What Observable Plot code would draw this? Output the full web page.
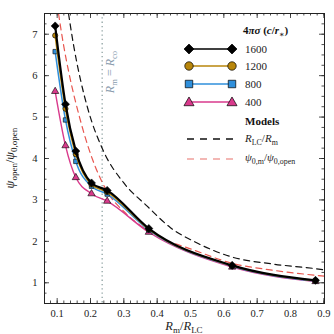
<!DOCTYPE html>
<html><head><meta charset="utf-8">
<script src="https://cdn.jsdelivr.net/npm/d3@7"></script>
<script src="https://cdn.jsdelivr.net/npm/@observablehq/plot@0.6"></script>
<style>
body{margin:0;background:#fff}
svg{font-family:"Liberation Serif","DejaVu Serif",serif}
</style>
</head><body><div id="chart"></div>
<script>
// ---- data ----
const rmX = [0.094, 0.125, 0.156, 0.203, 0.25, 0.375, 0.625, 0.875];
const seriesNames = ["1600", "1200", "800", "400"];
const psi1600 = [7.20, 5.31, 4.18, 3.41, 3.23, 2.31, 1.42, 1.06];
const psi1200 = [6.97, 5.20, 4.10, 3.37, 3.19, 2.29, 1.41, 1.05];
const psi800  = [6.58, 4.93, 3.93, 3.33, 3.14, 2.27, 1.40, 1.04];
const psi400  = [5.62, 4.31, 3.54, 3.15, 2.97, 2.22, 1.38, 1.03];
const rlcX = [0.134, 0.15, 0.17, 0.192, 0.24, 0.3, 0.37, 0.44, 0.52, 0.625, 0.75, 0.875, 0.902];
const rlcY = [7.5, 6.7, 5.9, 5.2, 4.16, 3.41, 2.85, 2.33, 1.96, 1.62, 1.45, 1.34, 1.31];
const psiMX = [0.104, 0.12, 0.137, 0.167, 0.205, 0.225, 0.25, 0.3, 0.375, 0.42, 0.5, 0.625, 0.75, 0.902];
const psiMY = [7.5, 6.7, 6.0, 5.0, 4.0, 3.6, 3.2, 2.72, 2.25, 2.05, 1.82, 1.47, 1.3, 1.16];
const rcoX = [0.235];
const xTicks = [0.1, 0.2, 0.3, 0.4, 0.5, 0.6, 0.7, 0.8, 0.9];
const xTickLabels = ["0.1","0.2","0.3","0.4","0.5","0.6","0.7","0.8","0.9"];
const yTicks = [1, 2, 3, 4, 5, 6, 7];
const yTickLabels = ["1","2","3","4","5","6","7"];
const xMinor = d3.range(0.08, 0.9001, 0.02);
const yMinor = d3.range(0.5, 7.5001, 0.25);

// ---- styles ----
const squareDiamond = {draw(ctx, size) { const r = Math.sqrt(size / 2); ctx.moveTo(0, -r); ctx.lineTo(r, 0); ctx.lineTo(0, r); ctx.lineTo(-r, 0); ctx.closePath(); }};
const colors = {"1600": "#000000", "1200": "#b8860b", "800": "#2f8fdb", "400": "#d93a8c"};
const symbols = {"1600": squareDiamond, "1200": d3.symbolCircle, "800": d3.symbolSquare, "400": d3.symbolTriangle};
const widths = {"1600": 2.2, "1200": 1.6, "800": 1.5, "400": 1.4};
const radii = {"1600": 3.2, "1200": 2.6, "800": 2.5, "400": 2.7};
const vals = {"1600": psi1600, "1200": psi1200, "800": psi800, "400": psi400};

const rows = name => rmX.map((x, i) => ({x, y: vals[name][i], s: name}));
const rlc = rlcX.map((x, i) => ({x, y: rlcY[i]}));
const psiM = psiMX.map((x, i) => ({x, y: psiMY[i]}));

const drawOrder = ["400", "800", "1200", "1600"];
const seriesMarks = drawOrder.flatMap(name => [
  Plot.line(rows(name), {x: "x", y: "y", stroke: colors[name], strokeWidth: widths[name], curve: "monotone-x"}),
  Plot.dot(rows(name), {x: "x", y: "y", symbol: () => symbols[name], fill: colors[name], stroke: "#000", strokeWidth: 0.6, r: radii[name]})
]);

const tickStyle = {stroke: "#222", strokeWidth: 0.8};
const plot = Plot.plot({
  width: 334, height: 334,
  marginLeft: 44, marginRight: 10, marginTop: 13, marginBottom: 31,
  style: {fontFamily: "Liberation Serif, DejaVu Serif, serif", fontSize: "10.5px", background: "#fff"},
  x: {domain: [0.062, 0.902], label: null},
  y: {domain: [0.5, 7.5], label: null},
  marks: [
    Plot.ruleX(rcoX, {stroke: "#8fa3a3", strokeWidth: 1.3, strokeDasharray: "1.3,3"}),
    Plot.line(rlc, {x: "x", y: "y", stroke: "#111", strokeWidth: 1.2, strokeDasharray: "6,4.5", curve: "monotone-x"}),
    Plot.line(psiM, {x: "x", y: "y", stroke: "#e8564f", strokeWidth: 1.2, strokeDasharray: "6,4.5", curve: "monotone-x"}),
    ...seriesMarks,
    // inward ticks (bottom/top/left/right)
    Plot.ruleX(xTicks, {insetTop: 285, ...tickStyle}),
    Plot.ruleX(xTicks, {insetBottom: 285, ...tickStyle}),
    Plot.ruleX(xMinor, {insetTop: 287.5, ...tickStyle}),
    Plot.ruleX(xMinor, {insetBottom: 287.5, ...tickStyle}),
    Plot.ruleY(yTicks, {insetRight: 275, ...tickStyle}),
    Plot.ruleY(yTicks, {insetLeft: 275, ...tickStyle}),
    Plot.ruleY(yMinor, {insetRight: 277.5, ...tickStyle}),
    Plot.ruleY(yMinor, {insetLeft: 277.5, ...tickStyle}),
    Plot.axisX(xTicks, {anchor: "bottom", tickSize: 0, tickPadding: 6, tickFormat: (d, i) => xTickLabels[i], label: null, fill: "#222"}),
    Plot.axisY(yTicks, {anchor: "left", tickSize: 0, tickPadding: 7, tickFormat: (d, i) => yTickLabels[i], label: null, fill: "#222"}),
    Plot.frame({stroke: "#222", strokeWidth: 1})
  ]
});

// ---- math-style text helper ----
function mtext(parent, parts, fs) {
  let shift = 0;
  parts.forEach(([t, k]) => {
    const ts = parent.append("tspan").text(t);
    let target = 0;
    if (k.includes("s")) { ts.attr("font-size", fs * 0.72); target = fs * 0.25; }
    else ts.attr("font-size", fs);
    if (k.includes("i")) ts.attr("font-style", "italic");
    if (k.includes("b")) ts.attr("font-weight", "bold");
    if (target !== shift) { ts.attr("dy", target - shift); shift = target; }
  });
}

const svg = d3.select(plot);
const sx = plot.scale("x");

// x axis label
const xl = svg.append("text").attr("x", 184).attr("y", 330).attr("text-anchor", "middle").attr("fill", "#222");
mtext(xl, [["R", "i"], ["m", "s"], ["/", ""], ["R", "i"], ["LC", "s"]], 12.5);

// y axis label
const yl = svg.append("text").attr("transform", "translate(14,158) rotate(-90)").attr("text-anchor", "middle").attr("fill", "#222");
mtext(yl, [["ψ", "i"], ["open", "s"], ["/", ""], ["ψ", "i"], ["0,open", "s"]], 12.5);

// R_m = R_co annotation
const cx = sx.apply(rcoX[0]) + 12;
const an = svg.append("text").attr("transform", `translate(${cx},72) rotate(-90)`).attr("text-anchor", "middle").attr("fill", "#8a9cae");
mtext(an, [["R", "i"], ["m", "s"], [" = ", ""], ["R", "i"], ["co", "s"]], 12);

// ---- legend ----
const lg = svg.append("g").attr("text-anchor", "start");
const t0 = lg.append("text").attr("x", 243).attr("y", 34).attr("text-anchor", "start").attr("fill", "#111");
mtext(t0, [["4", "b"], ["πσ", "bi"], [" (", "b"], ["c", "bi"], ["/", "b"], ["r", "bi"], ["∗", "bs"], [")", "b"]], 11);

const legendRows = [49, 66, 84, 102];
const symGen = {
  "1600": d3.symbol(squareDiamond, 50),
  "1200": d3.symbol(d3.symbolCircle, 56),
  "800": d3.symbol(d3.symbolSquare, 56),
  "400": d3.symbol(d3.symbolTriangle, 44)
};
seriesNames.forEach((name, i) => {
  const y = legendRows[i];
  lg.append("line").attr("x1", 189).attr("x2", 232).attr("y1", y).attr("y2", y)
    .attr("stroke", colors[name]).attr("stroke-width", name === "1600" ? 1.6 : 1.3);
  [189, 232].forEach(x => {
    lg.append("path").attr("d", symGen[name]()).attr("transform", `translate(${x},${y + (name === "400" ? 0.8 : 0)})`)
      .attr("fill", colors[name]).attr("stroke", "#000").attr("stroke-width", 0.7);
  });
  lg.append("text").attr("x", 245).attr("y", y + 4).attr("text-anchor", "start").attr("font-size", 11).attr("fill", "#222").text(name);
});
lg.append("text").attr("x", 245).attr("y", 125).attr("text-anchor", "start").attr("font-size", 11).attr("font-weight", "bold").attr("fill", "#111").text("Models");
[[139, "#111"], [159, "#f0a09c"]].forEach(([y, c]) => {
  lg.append("line").attr("x1", 187).attr("x2", 233).attr("y1", y).attr("y2", y)
    .attr("stroke", c).attr("stroke-width", 1.3).attr("stroke-dasharray", "7,6");
});
const m1 = lg.append("text").attr("x", 245).attr("y", 142).attr("text-anchor", "start").attr("fill", "#222");
mtext(m1, [["R", "i"], ["LC", "s"], ["/", ""], ["R", "i"], ["m", "s"]], 11);
const m2 = lg.append("text").attr("x", 245).attr("y", 161).attr("text-anchor", "start").attr("fill", "#222");
mtext(m2, [["ψ", "i"], ["0,m", "s"], ["/", ""], ["ψ", "i"], ["0,open", "s"]], 11);

document.getElementById("chart").append(plot);
</script>
</body></html>
